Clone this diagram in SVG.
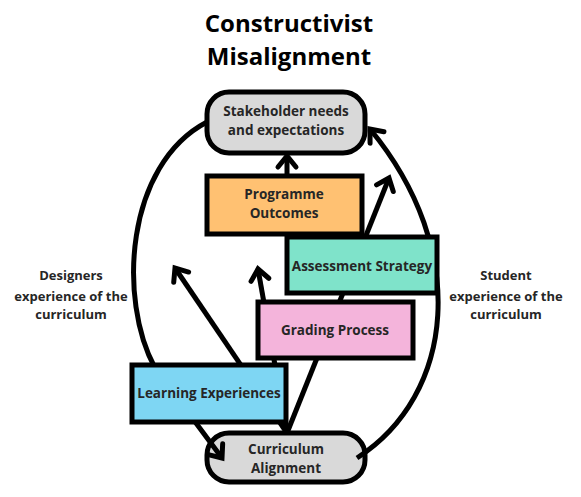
<svg xmlns="http://www.w3.org/2000/svg" width="581" height="497" viewBox="0 0 581 497">
<defs>
<marker id="ah" markerUnits="userSpaceOnUse" markerWidth="24" markerHeight="24" viewBox="0 0 24 24" refX="16" refY="12" orient="auto" overflow="visible">
<path d="M5,3 L16,12 L5,21" fill="none" stroke="#000" stroke-width="5" stroke-linecap="round" stroke-linejoin="miter"/>
</marker>
</defs>
<style>
.t{font-family:"Open Sans","Liberation Sans",sans-serif;font-weight:700;fill:#262626;text-anchor:middle}
.title{font-size:24px;fill:#000}
.lbl{font-size:13px}
.bx{font-size:13.5px}
.box{stroke:#000;stroke-width:5}
.c{fill:none;stroke:#000;stroke-width:5}
</style>
<rect width="581" height="497" fill="#fff"/>
<g id="title">
<text class="t title" x="289" y="32">Constructivist</text>
<text class="t title" x="289" y="65">Misalignment</text>
</g>
<g id="label-designers">
<text class="t lbl" x="71" y="280">Designers</text>
<text class="t lbl" x="71" y="301">experience of the</text>
<text class="t lbl" x="71" y="319">curriculum</text>
</g>
<g id="label-student">
<text class="t lbl" x="506" y="280">Student</text>
<text class="t lbl" x="506" y="301">experience of the</text>
<text class="t lbl" x="506" y="319">curriculum</text>
</g>
<g id="stakeholder">
<rect class="box" x="207" y="92" width="158" height="61" rx="22" fill="#D9D9D9"/>
<text class="t bx" x="286" y="116">Stakeholder needs</text>
<text class="t bx" x="286" y="135">and expectations</text>
</g>
<g id="curriculum-alignment">
<rect class="box" x="207" y="433" width="158" height="49" rx="22" fill="#D9D9D9"/>
<text class="t bx" x="286" y="454">Curriculum</text>
<text class="t bx" x="286" y="473">Alignment</text>
</g>
<g id="connectors">
<path class="c" d="M207,122 C125,165 118,300 155,368 L222,458" marker-end="url(#ah)"/>
<path class="c" d="M357,458 C455,395 470,250 370,129" marker-end="url(#ah)"/>
<path class="c" d="M287,176 L287,156" marker-end="url(#ah)"/>
<path class="c" d="M287,433 L389,178" marker-end="url(#ah)"/>
<path class="c" d="M287,433 L258,269" marker-end="url(#ah)"/>
<path class="c" d="M287,433 L175,268" marker-end="url(#ah)"/>
</g>
<g id="programme-outcomes">
<rect class="box" x="207" y="176" width="155" height="58" fill="#FFC172"/>
<text class="t bx" x="284" y="199">Programme</text>
<text class="t bx" x="284" y="218">Outcomes</text>
</g>
<g id="assessment-strategy">
<rect class="box" x="287" y="237" width="150" height="56" fill="#7FE3CA"/>
<text class="t bx" x="362" y="271">Assessment Strategy</text>
</g>
<g id="grading-process">
<rect class="box" x="258" y="302" width="155" height="56" fill="#F4B4DB"/>
<text class="t bx" x="335" y="335">Grading Process</text>
</g>
<g id="learning-experiences">
<rect class="box" x="132" y="365" width="154" height="57" fill="#7ED6F3"/>
<text class="t bx" x="209" y="398">Learning Experiences</text>
</g>
</svg>
